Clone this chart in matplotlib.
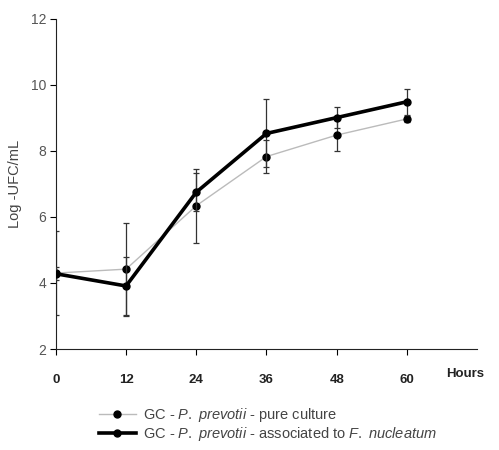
import matplotlib.pyplot as plt
from matplotlib.lines import Line2D

plt.rcParams['font.family'] = ['Liberation Sans', 'DejaVu Sans']
plt.rcParams['mathtext.fontset'] = 'custom'
plt.rcParams['mathtext.it'] = 'Liberation Sans:italic'
plt.rcParams['mathtext.rm'] = 'Liberation Sans'

hours = [0, 12, 24, 36, 48, 60]
pure = [4.30, 4.42, 6.34, 7.83, 8.48, 8.97]
pure_err = [1.27, 1.41, 1.12, 0.50, 0.47, 0.10]
assoc = [4.28, 3.91, 6.75, 8.53, 9.01, 9.49]
assoc_err = [0.20, 0.88, 0.57, 1.03, 0.31, 0.40]

yticks = [2, 4, 6, 8, 10, 12]

fig = plt.figure(figsize=(4.99, 4.5), dpi=100)
ax = fig.add_axes([0.112, 0.2244, 0.844, 0.7336])

ax.errorbar(hours, pure, yerr=pure_err, color='#bbbbbb', lw=1.0, marker='o',
            ms=5, mfc='black', mec='black', ecolor='#333333', elinewidth=0.9,
            capsize=2.5, capthick=0.9, zorder=2)
ax.errorbar(hours, assoc, yerr=assoc_err, color='black', lw=2.6, marker='o',
            ms=5, mfc='black', mec='black', ecolor='#333333', elinewidth=0.9,
            capsize=2.5, capthick=0.9, zorder=3)

ax.set_xlim(0, 72)
ax.set_ylim(2, 12)
ax.set_xticks(hours)
ax.set_yticks(yticks)
ax.spines['top'].set_visible(False)
ax.spines['right'].set_visible(False)
ax.spines['left'].set_color('#222222')
ax.spines['bottom'].set_color('#222222')
ax.tick_params(axis='y', direction='out', length=4, labelsize=10,
               labelcolor='#555555', pad=3)
ax.tick_params(axis='x', direction='out', length=4, labelsize=9.5, pad=14)
for lab in ax.get_xticklabels():
    lab.set_fontweight('bold')
    lab.set_color('#222222')

ax.set_ylabel('Log -UFC/mL', fontsize=10.5, color='#444444')
ax.yaxis.set_label_coords(-0.08, 0.5)
fig.text(0.895, 0.163, 'Hours', fontsize=9.5, fontweight='bold', color='#222222')

handles = [
    Line2D([], [], color='#bbbbbb', lw=1.0, marker='o', ms=5,
           mfc='black', mec='black'),
    Line2D([], [], color='black', lw=2.6, marker='o', ms=5,
           mfc='black', mec='black'),
]
labels = [
    r'GC - $\it{P.\ prevotii}$ - pure culture',
    r'GC - $\it{P.\ prevotii}$ - associated to $\it{F.\ nucleatum}$',
]
leg = fig.legend(handles, labels, loc='upper left', bbox_to_anchor=(0.184, 0.114),
                 frameon=False, fontsize=10.5, handlelength=2.5, handletextpad=0.5,
                 labelspacing=0.05, borderpad=0)
for t in leg.get_texts():
    t.set_color('#444444')

fig.savefig('out.png', dpi=100)
